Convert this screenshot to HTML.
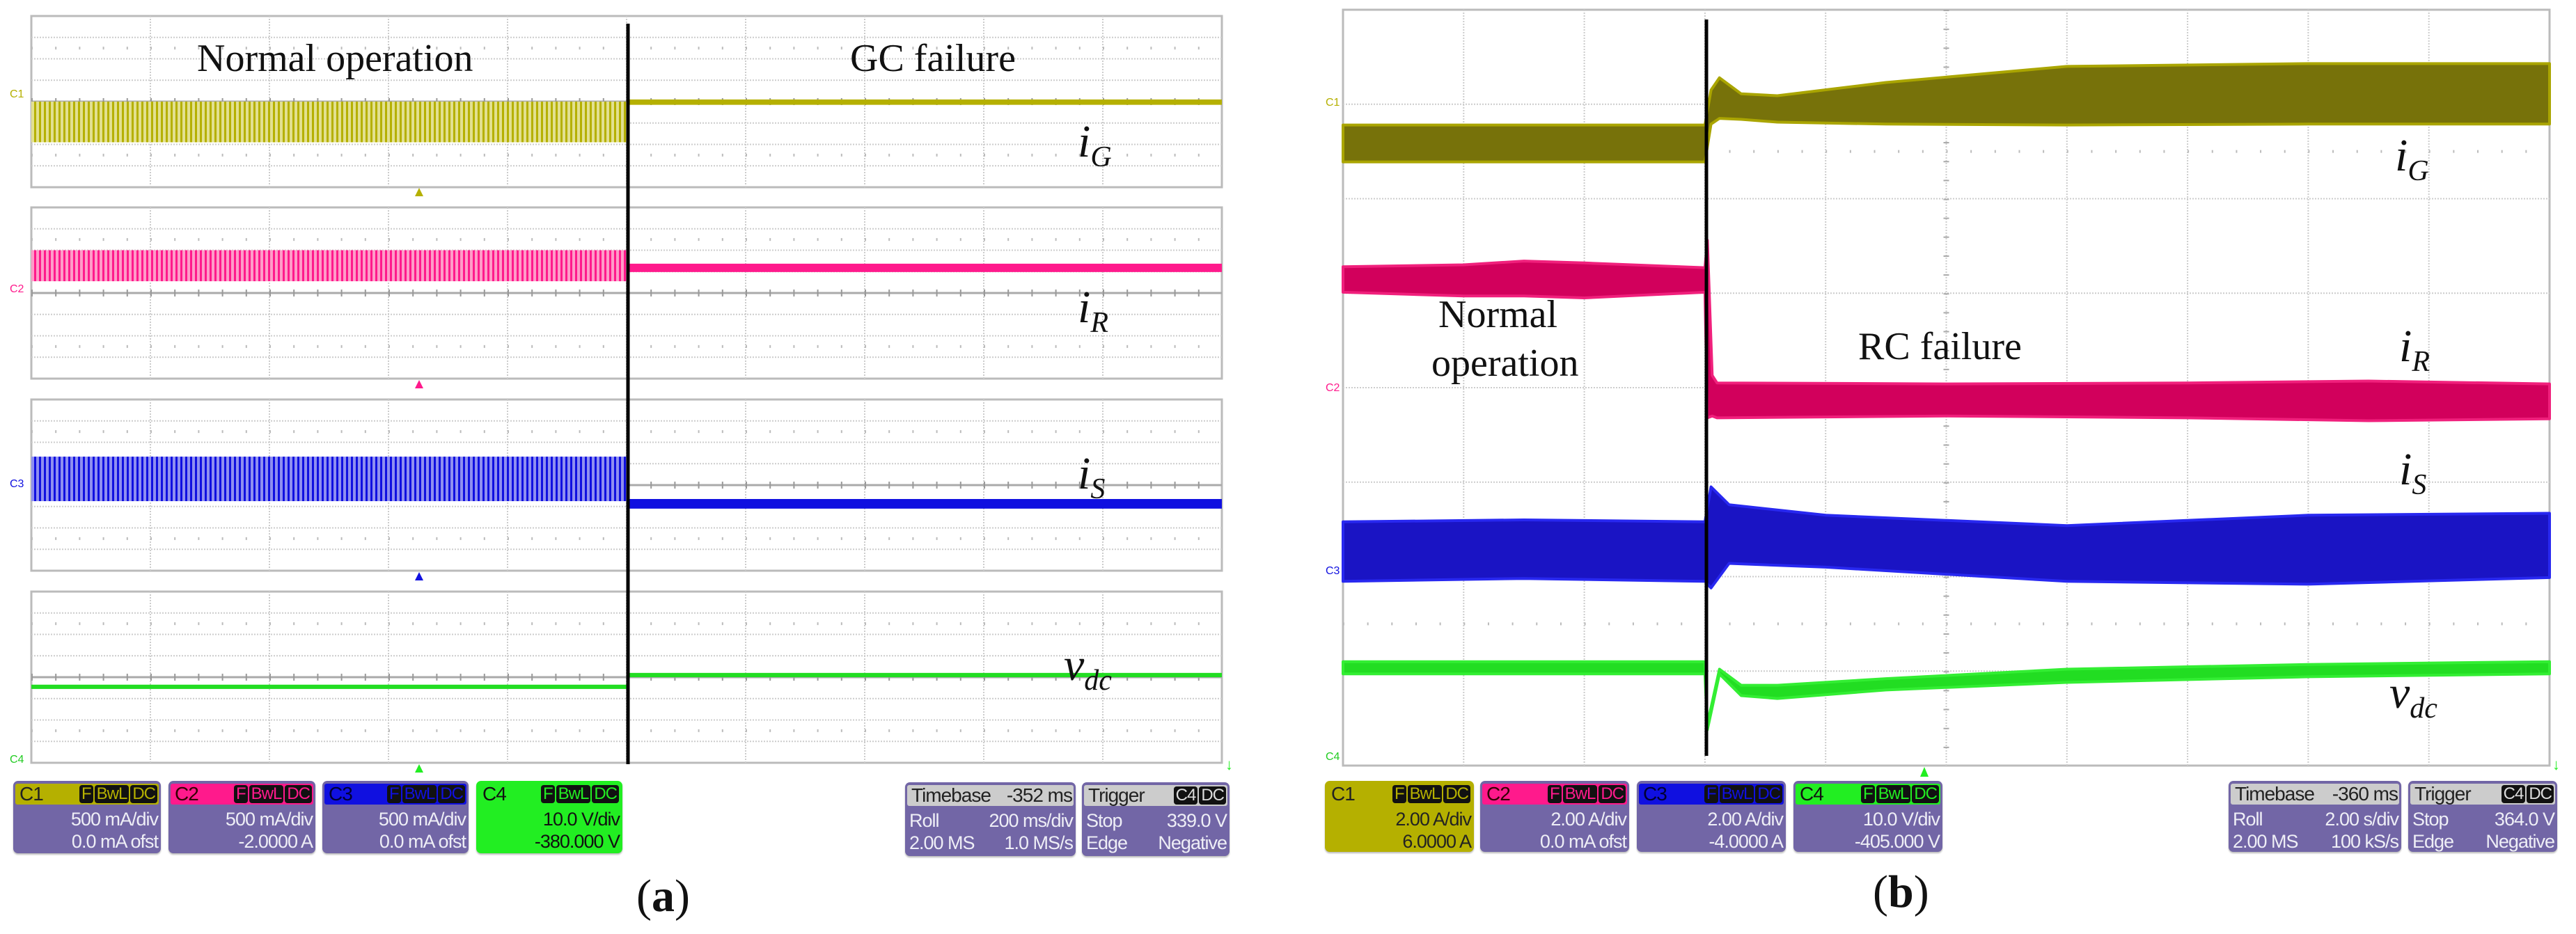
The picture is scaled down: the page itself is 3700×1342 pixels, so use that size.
<!DOCTYPE html>
<html><head><meta charset="utf-8">
<style>
html,body{margin:0;padding:0;background:#fff;}
#wrap{position:relative;width:3700px;height:1342px;overflow:hidden;background:#fff;font-family:"Liberation Sans",sans-serif;}
svg{position:absolute;left:0;top:0;}
.box{position:absolute;background:#7266a6;border-radius:7px;box-shadow:0 2px 2px #bbb;overflow:hidden;color:#eeeef6;font-size:27px;letter-spacing:-1px;}
.hdr{position:absolute;left:3px;right:3px;top:4px;height:30px;border-radius:3px;}
.hdr .ch{position:absolute;left:6px;top:0px;font-size:28px;line-height:30px;}
.badges{position:absolute;right:2px;top:2px;display:flex;gap:2px;}
.bd{background:#111;border-radius:4px;padding:0 3px;line-height:26px;font-size:24px;color:#ddd;}
.row{position:absolute;right:4px;text-align:right;line-height:30px;white-space:nowrap;}
.r1{top:40px;}.r2{top:72px;}
.lt{position:absolute;left:6px;line-height:30px;white-space:nowrap;}
.serif{position:absolute;font-family:"Liberation Serif",serif;color:#111;white-space:nowrap;}
</style></head>
<body>
<div id="wrap">
<svg id="chart" width="3700" height="1342" viewBox="0 0 3700 1342">
<defs>
<pattern id="pY" width="7" height="10" patternUnits="userSpaceOnUse"><rect width="7" height="10" fill="#e2e090"/><rect width="3" height="10" fill="#b5b000"/></pattern>
<pattern id="pP" width="7" height="10" patternUnits="userSpaceOnUse"><rect width="7" height="10" fill="#ff9cc8"/><rect width="3" height="10" fill="#ff1a8c"/></pattern>
<pattern id="pB" width="7" height="10" patternUnits="userSpaceOnUse"><rect width="7" height="10" fill="#8f8ff0"/><rect width="3" height="10" fill="#1010e0"/></pattern>
</defs>
<g id="gridA"></g>
<g id="gridB"></g>
<g id="tracesA"></g>
<g id="tracesB"></g>
<line x1="902" y1="34" x2="902" y2="1098" stroke="#000" stroke-width="5"/>
<line x1="2451" y1="28" x2="2451" y2="1086" stroke="#000" stroke-width="5"/>
<polygon points="596,282 608,282 602,270" fill="#b5b000"/>
<polygon points="596,558 608,558 602,546" fill="#ff1a8c"/>
<polygon points="596,834 608,834 602,822" fill="#1010e0"/>
<polygon points="596,1110 608,1110 602,1098" fill="#22ee22"/>
<polygon points="2758,1116 2770,1116 2764,1102" fill="#22ee22"/>
<text x="14" y="140" font-size="16" fill="#b5b000">C1</text>
<text x="14" y="420" font-size="16" fill="#ff1a8c">C2</text>
<text x="14" y="700" font-size="16" fill="#1010e0">C3</text>
<text x="14" y="1096" font-size="16" fill="#22cc22">C4</text>
<text x="1904" y="152" font-size="16" fill="#b5b000">C1</text>
<text x="1904" y="562" font-size="16" fill="#ff1a8c">C2</text>
<text x="1904" y="825" font-size="16" fill="#1010e0">C3</text>
<text x="1904" y="1092" font-size="16" fill="#22cc22">C4</text>
<text x="1760" y="1106" font-size="22" fill="#22ee22">↓</text>
<text x="3666" y="1106" font-size="22" fill="#22ee22">↓</text>
</svg>

<div class="serif" style="left:283px;top:52px;font-size:56px;">Normal operation</div>
<div class="serif" style="left:1221px;top:52px;font-size:56px;">GC failure</div>
<div class="serif" style="left:1548px;top:166px;font-size:66px;font-style:italic;">i<sub style="font-size:42px;">G</sub></div>
<div class="serif" style="left:1548px;top:404px;font-size:66px;font-style:italic;">i<sub style="font-size:42px;">R</sub></div>
<div class="serif" style="left:1548px;top:643px;font-size:66px;font-style:italic;">i<sub style="font-size:42px;">S</sub></div>
<div class="serif" style="left:1528px;top:918px;font-size:66px;font-style:italic;">v<sub style="font-size:42px;">dc</sub></div>

<div class="serif" style="left:2066px;top:420px;font-size:56px;">Normal</div>
<div class="serif" style="left:2056px;top:490px;font-size:56px;">operation</div>
<div class="serif" style="left:2669px;top:466px;font-size:56px;">RC failure</div>
<div class="serif" style="left:3440px;top:186px;font-size:66px;font-style:italic;">i<sub style="font-size:42px;">G</sub></div>
<div class="serif" style="left:3446px;top:460px;font-size:66px;font-style:italic;">i<sub style="font-size:42px;">R</sub></div>
<div class="serif" style="left:3446px;top:637px;font-size:66px;font-style:italic;">i<sub style="font-size:42px;">S</sub></div>
<div class="serif" style="left:3432px;top:958px;font-size:66px;font-style:italic;">v<sub style="font-size:42px;">dc</sub></div>

<div class="serif" style="left:914px;top:1250px;font-size:66px;">(<b>a</b>)</div>
<div class="serif" style="left:2690px;top:1244px;font-size:66px;">(<b>b</b>)</div>

<div class="box" style="left:19px;top:1122px;width:212px;height:104px;">
 <div class="hdr" style="background:#b5b000;color:#222;"><span class="ch">C1</span><div class="badges"><span class="bd" style="color:#b5b000">F</span><span class="bd" style="color:#b5b000">BwL</span><span class="bd" style="color:#b5b000">DC</span></div></div>
 <div class="row r1">500 mA/div</div><div class="row r2">0.0 mA ofst</div></div>
<div class="box" style="left:242px;top:1122px;width:211px;height:104px;">
 <div class="hdr" style="background:#ff1a8c;color:#300;"><span class="ch">C2</span><div class="badges"><span class="bd" style="color:#ff1a8c">F</span><span class="bd" style="color:#ff1a8c">BwL</span><span class="bd" style="color:#ff1a8c">DC</span></div></div>
 <div class="row r1">500 mA/div</div><div class="row r2">-2.0000 A</div></div>
<div class="box" style="left:463px;top:1122px;width:210px;height:104px;">
 <div class="hdr" style="background:#1010e0;color:#003;"><span class="ch">C3</span><div class="badges"><span class="bd" style="color:#1010e0">F</span><span class="bd" style="color:#1010e0">BwL</span><span class="bd" style="color:#1010e0">DC</span></div></div>
 <div class="row r1">500 mA/div</div><div class="row r2">0.0 mA ofst</div></div>
<div class="box" style="left:684px;top:1122px;width:210px;height:104px;background:#22ee22;color:#111;">
 <div class="hdr" style="background:#22ee22;color:#111;"><span class="ch">C4</span><div class="badges"><span class="bd" style="color:#22ee22">F</span><span class="bd" style="color:#22ee22">BwL</span><span class="bd" style="color:#22ee22">DC</span></div></div>
 <div class="row r1">10.0 V/div</div><div class="row r2">-380.000 V</div></div>
<div class="box" style="left:1300px;top:1124px;width:245px;height:106px;">
 <div class="hdr" style="background:#ccc;color:#222;"><span class="ch">Timebase</span><span style="position:absolute;right:2px;line-height:30px;font-size:28px;">-352 ms</span></div>
 <div class="lt r1">Roll</div><div class="row r1">200 ms/div</div><div class="lt r2">2.00 MS</div><div class="row r2">1.0 MS/s</div></div>
<div class="box" style="left:1554px;top:1124px;width:212px;height:106px;">
 <div class="hdr" style="background:#ccc;color:#222;"><span class="ch">Trigger</span><div class="badges"><span class="bd">C4</span><span class="bd">DC</span></div></div>
 <div class="lt r1">Stop</div><div class="row r1">339.0 V</div><div class="lt r2">Edge</div><div class="row r2">Negative</div></div>

<div class="box" style="left:1903px;top:1122px;width:214px;height:102px;background:#b5b000;color:#222;">
 <div class="hdr" style="background:#b5b000;color:#222;"><span class="ch">C1</span><div class="badges"><span class="bd" style="color:#b5b000">F</span><span class="bd" style="color:#b5b000">BwL</span><span class="bd" style="color:#b5b000">DC</span></div></div>
 <div class="row r1">2.00 A/div</div><div class="row r2">6.0000 A</div></div>
<div class="box" style="left:2126px;top:1122px;width:214px;height:102px;">
 <div class="hdr" style="background:#ff1a8c;color:#300;"><span class="ch">C2</span><div class="badges"><span class="bd" style="color:#ff1a8c">F</span><span class="bd" style="color:#ff1a8c">BwL</span><span class="bd" style="color:#ff1a8c">DC</span></div></div>
 <div class="row r1">2.00 A/div</div><div class="row r2">0.0 mA ofst</div></div>
<div class="box" style="left:2351px;top:1122px;width:214px;height:102px;">
 <div class="hdr" style="background:#1010e0;color:#003;"><span class="ch">C3</span><div class="badges"><span class="bd" style="color:#1010e0">F</span><span class="bd" style="color:#1010e0">BwL</span><span class="bd" style="color:#1010e0">DC</span></div></div>
 <div class="row r1">2.00 A/div</div><div class="row r2">-4.0000 A</div></div>
<div class="box" style="left:2576px;top:1122px;width:214px;height:102px;">
 <div class="hdr" style="background:#22ee22;color:#111;"><span class="ch">C4</span><div class="badges"><span class="bd" style="color:#22ee22">F</span><span class="bd" style="color:#22ee22">BwL</span><span class="bd" style="color:#22ee22">DC</span></div></div>
 <div class="row r1">10.0 V/div</div><div class="row r2">-405.000 V</div></div>
<div class="box" style="left:3201px;top:1122px;width:248px;height:102px;">
 <div class="hdr" style="background:#ccc;color:#222;"><span class="ch">Timebase</span><span style="position:absolute;right:2px;line-height:30px;font-size:28px;">-360 ms</span></div>
 <div class="lt r1">Roll</div><div class="row r1">2.00 s/div</div><div class="lt r2">2.00 MS</div><div class="row r2">100 kS/s</div></div>
<div class="box" style="left:3459px;top:1122px;width:214px;height:102px;">
 <div class="hdr" style="background:#ccc;color:#222;"><span class="ch">Trigger</span><div class="badges"><span class="bd">C4</span><span class="bd">DC</span></div></div>
 <div class="lt r1">Stop</div><div class="row r1">364.0 V</div><div class="lt r2">Edge</div><div class="row r2">Negative</div></div>
</div>

<script>
const aSeriesNames = ['iG','iR','iS','vdc'];
const aFaultTime = 5.0;
const aNormalHi = [0.0, 2.0, 1.33, -0.35];
const aNormalLo = [-1.9, 0.55, -0.75, -0.55];
const aFaultHi  = [0.1, 1.37, -0.65, 0.2];
const aFaultLo  = [-0.15, 0.98, -1.1, 0.0];

const bGTime = [0, 3.0, 3.05, 3.12, 3.3, 3.6, 4.5, 6, 8, 10];
const bGHi   = [2.78, 2.78, 3.15, 3.28, 3.11, 3.09, 3.23, 3.40, 3.43, 3.43];
const bGLo   = [2.39, 2.39, 2.79, 2.85, 2.84, 2.81, 2.79, 2.78, 2.79, 2.79];
const bRTime = [0, 1.0, 1.5, 2.0, 3.0, 3.02, 3.06, 3.1, 5, 7, 8.5, 10];
const bRHi   = [1.28, 1.30, 1.34, 1.32, 1.27, 1.56, 0.13, 0.05, 0.04, 0.05, 0.07, 0.04];
const bRLo   = [1.01, 0.97, 0.97, 0.95, 1.01, -0.32, -0.30, -0.32, -0.30, -0.32, -0.35, -0.33];
const bSTime = [0, 1.5, 3.0, 3.05, 3.2, 4, 6, 8, 10];
const bSHi   = [-1.42, -1.40, -1.42, -1.05, -1.24, -1.35, -1.46, -1.35, -1.33];
const bSLo   = [-2.05, -2.02, -2.05, -2.12, -1.86, -1.90, -2.05, -2.08, -2.01];
const bVTime = [0, 3.0, 3.02, 3.12, 3.3, 3.6, 4.5, 6, 8, 10];
const bVHi   = [-2.90, -2.90, -3.56, -2.98, -3.15, -3.15, -3.08, -2.98, -2.93, -2.90];
const bVLo   = [-3.03, -3.03, -3.62, -3.03, -3.26, -3.29, -3.20, -3.12, -3.06, -3.03];

const NS = 'http://www.w3.org/2000/svg';
function mk(tag, attrs, parent){ const e=document.createElementNS(NS,tag); for(const k in attrs) e.setAttribute(k,attrs[k]); parent.appendChild(e); return e; }

const A = {x0:45, divW:171, tops:[23,298,574,850], h:246, divH:30.75};
function xA(t){ return A.x0 + t*A.divW; }
function yA(k,v){ return A.tops[k] + A.h/2 - v*A.divH; }
const B = {x0:1929, x1:3662, y0:14, y1:1100, divW:173.3, divH:135.75};
function xB(t){ return B.x0 + t*B.divW; }
function yB(v){ return (B.y0+B.y1)/2 - v*B.divH; }

const gA = document.getElementById('gridA');
for(let k=0;k<4;k++){
  const top=A.tops[k], bot=top+A.h;
  const fr = mk('rect',{x:A.x0,y:top,width:10*A.divW,height:A.h,fill:'#fff',stroke:'#bbb','stroke-width':3},gA);
  
  
  for(let i=1;i<10;i++){
    const l=mk('line',{x1:xA(i),y1:top,x2:xA(i),y2:bot,stroke:'#ccc','stroke-width':2,'stroke-dasharray':'2 2'},gA);
    
    
  }
  for(let j=1;j<8;j++){
    const y=top+j*A.divH;
    const l=mk('line',{x1:A.x0,y1:y,x2:xA(10),y2:y,stroke:j===4?'#aaa':'#ccc','stroke-width':j===4?3:2,'stroke-dasharray':j===4?'none':'2 2'},gA);
    
    
  }
  for(const r of [1.5,6.5]){
    const y=top+r*A.divH;
    const l=mk('line',{x1:A.x0,y1:y,x2:xA(10),y2:y,stroke:'#bbb','stroke-width':4,'stroke-dasharray':'2 32.2'},gA);
    
    
  }
  const ax=mk('line',{x1:A.x0,y1:top+A.h/2,x2:xA(10),y2:top+A.h/2,stroke:'#999','stroke-width':10,'stroke-dasharray':'2 32.2'},gA);
  
  
}
const gB = document.getElementById('gridB');
const fb = mk('rect',{x:B.x0,y:B.y0,width:B.x1-B.x0,height:B.y1-B.y0,fill:'#fff',stroke:'#bbb','stroke-width':3},gB);


for(let i=1;i<10;i++){
  const l=mk('line',{x1:xB(i),y1:B.y0,x2:xB(i),y2:B.y1,stroke:'#ccc','stroke-width':2,'stroke-dasharray':'2 2'},gB);
  
  
}
for(let j=1;j<8;j++){
  const y=B.y0+j*B.divH;
  const l=mk('line',{x1:B.x0,y1:y,x2:B.x1,y2:y,stroke:'#ccc','stroke-width':2,'stroke-dasharray':'2 2'},gB);
  
  
}
for(const r of [1.5,6.5]){
  const y=B.y0+r*B.divH;
  const l=mk('line',{x1:B.x0,y1:y,x2:B.x1,y2:y,stroke:'#bbb','stroke-width':4,'stroke-dasharray':'2 32.66'},gB);
  
  
}
const vax=mk('line',{x1:xB(5),y1:B.y0,x2:xB(5),y2:B.y1,stroke:'#aaa','stroke-width':8,'stroke-dasharray':'2 25.15'},gB);



const tA = document.getElementById('tracesA');
const aFill = ['url(#pY)','url(#pP)','url(#pB)','#22dd22'];
const aSolid = ['#b5b000','#ff1a8c','#1010e0','#22dd22'];
for(let k=0;k<4;k++){
  const n = mk('rect',{x:xA(0),y:yA(k,aNormalHi[k]),width:xA(aFaultTime)-xA(0),height:Math.max(3,yA(k,aNormalLo[k])-yA(k,aNormalHi[k])),fill:aFill[k]},tA);
  
  
  const f = mk('rect',{x:xA(aFaultTime),y:yA(k,aFaultHi[k]),width:xA(10)-xA(aFaultTime),height:Math.max(3,yA(k,aFaultLo[k])-yA(k,aFaultHi[k])),fill:aSolid[k]},tA);
  
  
}

const tB = document.getElementById('tracesB');
function band(times,hi,lo,fill,edge,name){
  let pts=[];
  for(let i=0;i<times.length;i++) pts.push(xB(times[i]).toFixed(1)+','+yB(hi[i]).toFixed(1));
  for(let i=times.length-1;i>=0;i--) pts.push(xB(times[i]).toFixed(1)+','+yB(lo[i]).toFixed(1));
  const p = mk('polygon',{points:pts.join(' '),fill:fill,stroke:edge,'stroke-width':4,'stroke-linejoin':'round'},tB);
  
  
}
band(bGTime,bGHi,bGLo,'#77720a','#aaa500','trace-b-ig');
band(bRTime,bRHi,bRLo,'#d2005c','#f0207c','trace-b-ir');
band(bSTime,bSHi,bSLo,'#1a14c4','#2828f0','trace-b-is');
band(bVTime,bVHi,bVLo,'#22dd22','#33ee33','trace-b-vdc');
</script>
</body></html>
